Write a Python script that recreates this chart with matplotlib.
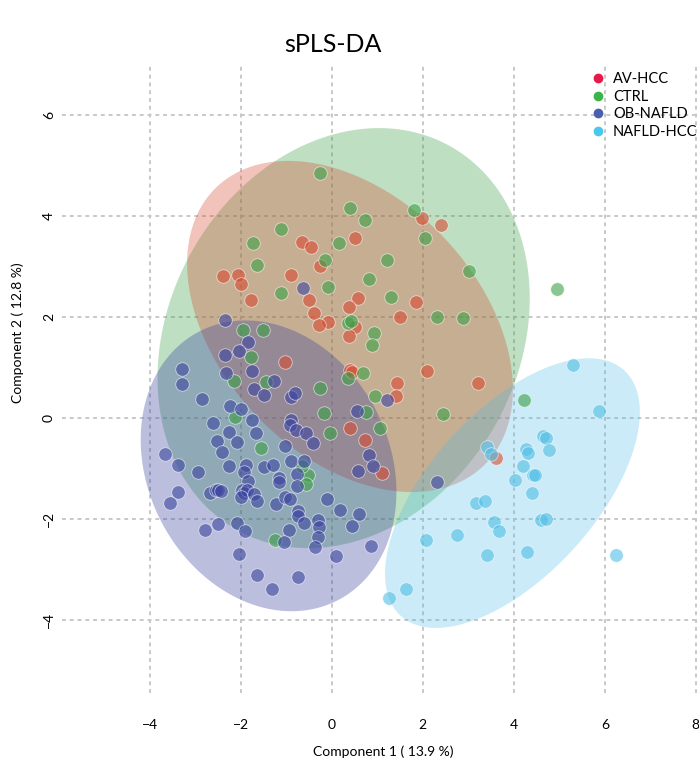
import numpy as np
import matplotlib
matplotlib.use("Agg")
import matplotlib.pyplot as plt
from matplotlib.lines import Line2D

plt.rcParams['font.family'] = ['Lato', 'DejaVu Sans']

groups = ['AV-HCC', 'CTRL', 'OB-NAFLD', 'NAFLD-HCC']

# component scores
av_x = [1.98, 2.40, 0.51, -0.66, -0.46, -0.26, -2.39, -2.07, -1.99, -0.90, -1.78, -0.50,
        0.58, 0.37, 1.85, -0.40, 1.49, -0.08, -0.28, 0.51, 0.37, -1.02, 0.39, 0.44,
        2.10, 1.44, 3.22, 1.41, 0.41, 0.73, 1.11, 3.60]
av_y = [3.95, 3.82, 3.57, 3.49, 3.39, 3.00, 2.82, 2.84, 2.65, 2.83, 2.34, 2.34,
        2.37, 2.19, 2.29, 2.07, 1.99, 1.90, 1.84, 1.80, 1.63, 1.10, 0.95, 0.90,
        0.92, 0.70, 0.70, 0.44, -0.20, -0.44, -1.10, -0.79]

ctrl_x = [-0.26, 0.41, 0.73, 1.81, 2.04, -1.11, -1.74, 0.15, -1.65, -0.15, 1.22, 3.01,
          -0.08, -1.12, 0.82, 1.30, 2.31, 2.88, 0.35, 0.43, 0.92, 0.89, -1.96, -1.52,
          -1.78, -2.15, -1.45, 0.36, 0.69, -0.26, 0.95, -0.18, 0.75, 1.05, 2.45, -0.04,
          -2.12, 4.22, 4.95, -1.56, -0.52, -0.56, -1.24, -0.66]
ctrl_y = [4.85, 4.15, 3.91, 4.11, 3.56, 3.74, 3.46, 3.47, 3.02, 3.12, 3.13, 2.90,
          2.60, 2.48, 2.75, 2.40, 1.99, 1.97, 1.88, 1.91, 1.68, 1.45, 1.75, 1.74,
          1.21, 0.74, 0.72, 0.79, 0.89, 0.59, 0.44, 0.10, 0.12, -0.20, 0.07, -0.30,
          0.01, 0.36, 2.55, -0.60, -1.13, -1.31, -2.42, -0.95]

ob_x = [-0.64, -2.35, -1.85, -2.35, -2.05, -1.76, -2.33, -1.26, -1.71, -1.49, -0.89, -0.81,
        -2.86, -2.24, -2.00, 1.22, 0.55, -2.62, -1.76, -0.89, -0.92, -0.78, -0.56, -2.26,
        -1.67, -3.30, -3.30, -0.42, -2.52, -2.09, -2.42, -3.66, -3.38, -2.26, -2.95, -1.88,
        -1.93, -1.48, -1.30, -1.03, -0.89, -0.62, -0.76, 0.82, 0.90, 0.58, -1.85, -1.16,
        -1.17, -0.76, -2.68, -2.55, -2.50, -2.44, -1.97, -1.93, -1.87, -2.00, -1.71, -1.65,
        -1.23, -1.03, -0.92, -3.38, -3.55, -0.10, -0.74, -0.74, -0.62, -0.31, -0.28, -0.31,
        -0.36, 0.18, 0.59, 0.45, 0.86, 0.09, -2.09, -1.91, -2.50, -2.78, -0.95, -1.05,
        -2.03, -1.65, -0.74, -1.32, 2.32]
ob_y = [2.57, 1.93, 1.50, 1.25, 1.32, 0.93, 0.89, 0.73, 0.58, 0.45, 0.42, 0.49,
        0.38, 0.24, 0.17, 0.35, 0.14, -0.11, -0.05, -0.04, -0.14, -0.25, -0.30, -0.28,
        -0.30, 0.96, 0.68, -0.50, -0.46, -0.47, -0.67, -0.71, -0.93, -0.95, -1.08, -0.94,
        -1.08, -0.98, -0.94, -0.55, -0.85, -0.85, -1.11, -0.73, -0.96, -1.05, -1.26, -1.20,
        -1.27, -1.34, -1.48, -1.42, -1.43, -1.45, -1.43, -1.48, -1.43, -1.56, -1.50, -1.65,
        -1.71, -1.56, -1.60, -1.47, -1.68, -1.61, -1.84, -1.95, -2.09, -2.02, -2.17, -2.36,
        -2.56, -1.82, -1.91, -2.14, -2.53, -2.73, -2.09, -2.24, -2.10, -2.22, -2.23, -2.46,
        -2.70, -3.11, -3.15, -3.39, -1.27]

nh_x = [5.31, 5.87, 4.65, 4.70, 4.26, 4.31, 4.78, 3.42, 3.49, 4.20, 4.02, 4.42,
        4.46, 4.41, 3.17, 3.36, 3.57, 3.67, 4.59, 4.70, 2.08, 2.75, 3.41, 4.29,
        6.24, 1.62, 1.26]
nh_y = [1.05, 0.13, -0.36, -0.40, -0.62, -0.69, -0.63, -0.58, -0.71, -0.95, -1.23, -1.13,
        -1.14, -1.48, -1.68, -1.64, -2.07, -2.25, -2.03, -2.01, -2.42, -2.33, -2.72, -2.65,
        -2.72, -3.39, -3.57]

# ellipse: centre, spread along x / y, correlation
ell_cx = [0.40, 0.26, -1.39, 3.97]
ell_cy = [1.81, 1.58, -0.95, -1.49]
ell_sx = [3.58, 4.09, 2.81, 2.80]
ell_sy = [3.28, 4.16, 2.88, 2.67]
ell_r = [-0.38, 0.19, -0.18, 0.60]

base_cols = ['#d74b32', '#3ca046', '#3c46a0', '#50bee6']
legend_cols = ['#e6194b', '#3cb44b', '#4a5fb0', '#48c8ee']


def ellipse_xy(cx, cy, sx, sy, r, n=300):
    t = np.linspace(0, 2 * np.pi, n)
    d = np.arccos(r)
    return cx + sx * np.cos(t + d / 2), cy + sy * np.cos(t - d / 2)


fig = plt.figure(figsize=(6.99, 7.64), dpi=100)
ax = fig.add_axes([62 / 699, 71 / 764, 637 / 699, 628 / 764])

alphas = [0.33, 0.33, 0.35, 0.30]
for i in [1, 0, 2, 3]:
    ex, ey = ellipse_xy(ell_cx[i], ell_cy[i], ell_sx[i], ell_sy[i], ell_r[i])
    ax.fill(ex, ey, color=base_cols[i], alpha=alphas[i], lw=0, zorder=1)

xs = [av_x, ctrl_x, ob_x, nh_x]
ys = [av_y, ctrl_y, ob_y, nh_y]
for i in range(4):
    ax.scatter(xs[i], ys[i], s=95, color=base_cols[i], alpha=0.6,
               edgecolors='white', linewidths=0.6, zorder=3)

ax.set_xlim(-5.93, 8.07)
ax.set_ylim(-5.45, 6.99)
ax.set_xticks([-4, -2, 0, 2, 4, 6, 8])
ax.set_yticks([-4, -2, 0, 2, 4, 6])
ax.grid(True, color='#c8c8c8', linewidth=1.4, linestyle=(0, (2, 2)))
ax.set_axisbelow(True)
for s in ax.spines.values():
    s.set_visible(False)
ax.tick_params(length=0, labelsize=10)
ax.tick_params(axis='x', pad=19)
ax.tick_params(axis='y', pad=5)
plt.setp(ax.get_yticklabels(), rotation=90, va='center')

fig.text(383 / 699, 1 - 752 / 764, 'Component 1 ( 13.9 %)', ha='center', va='center', fontsize=10)
fig.text(18 / 699, 1 - 333 / 764, 'Component 2 ( 12.8 %)', ha='center', va='center',
         rotation=90, fontsize=10)
fig.text(333 / 699, 1 - 45 / 764, 'sPLS-DA', ha='center', va='center', fontsize=18)

handles = [Line2D([], [], marker='o', linestyle='', color=c, markersize=6) for c in legend_cols]
fig.legend(handles, groups, loc='upper left', bbox_to_anchor=(589 / 699, 1 - 72 / 764),
           frameon=False, fontsize=10.5, handletextpad=0.45, labelspacing=0.25,
           handlelength=1.2, borderpad=0, borderaxespad=0)

fig.savefig('out.png', dpi=100)
